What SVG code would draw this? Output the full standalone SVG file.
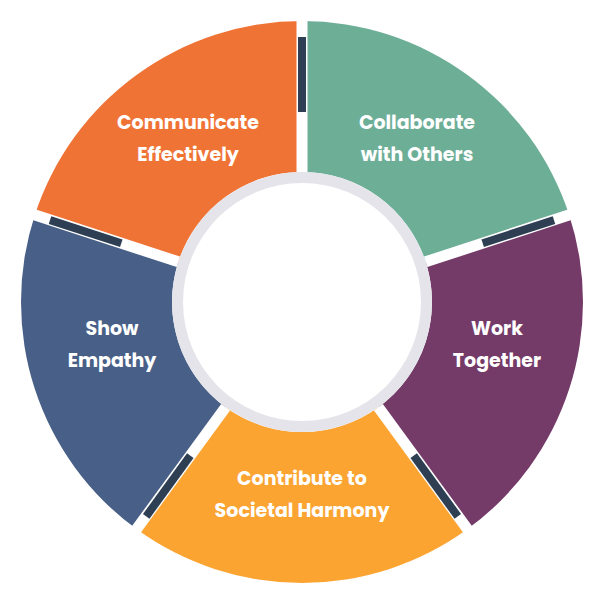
<svg xmlns="http://www.w3.org/2000/svg" width="605" height="604" viewBox="0 0 605 604">
<style>
.t{font-family:Poppins,Inter,"Liberation Sans",sans-serif;font-weight:700;font-size:19px;fill:#fff;text-anchor:middle}
.gap{stroke:#fff;stroke-width:11}
.dk{stroke:#2E3F54;stroke-width:8}
</style>
<rect width="605" height="604" fill="#fff"/>
<g id="seg-communicate"><path d="M34.75,215.17 A281,281 0 0 1 302,21 L302,172 A130,130 0 0 0 178.36,261.83 Z" fill="#F07336"/><text class="t" x="188" y="129">Communicate</text><text class="t" x="188" y="161">Effectively</text></g>
<g id="seg-collaborate"><path d="M302,21 A281,281 0 0 1 569.25,215.17 L425.64,261.83 A130,130 0 0 0 302,172 Z" fill="#6DAE97"/><text class="t" x="417" y="129">Collaborate</text><text class="t" x="417" y="161">with Others</text></g>
<g id="seg-work"><path d="M569.25,215.17 A281,281 0 0 1 467.17,529.33 L378.41,407.17 A130,130 0 0 0 425.64,261.83 Z" fill="#743A68"/><text class="t" x="497" y="335">Work</text><text class="t" x="497" y="367">Together</text></g>
<g id="seg-contribute"><path d="M467.17,529.33 A281,281 0 0 1 136.83,529.33 L225.59,407.17 A130,130 0 0 0 378.41,407.17 Z" fill="#FBA431"/><text class="t" x="302" y="485">Contribute to</text><text class="t" x="302" y="517">Societal Harmony</text></g>
<g id="seg-empathy"><path d="M136.83,529.33 A281,281 0 0 1 34.75,215.17 L178.36,261.83 A130,130 0 0 0 225.59,407.17 Z" fill="#485F87"/><text class="t" x="112" y="335">Show</text><text class="t" x="112" y="367">Empathy</text></g>
<g id="connectors">
<line class="gap" x1="302" y1="172" x2="302" y2="15"/>
<line class="gap" x1="425.64" y1="261.83" x2="575" y2="213"/>
<line class="gap" x1="378.41" y1="407.17" x2="471" y2="534"/>
<line class="gap" x1="225.59" y1="407.17" x2="133" y2="534"/>
<line class="gap" x1="178.36" y1="261.83" x2="29" y2="213"/>
<line class="dk" x1="302" y1="112" x2="302" y2="37"/>
<line class="dk" x1="482.7" y1="243.3" x2="554" y2="220.1"/>
<line class="dk" x1="413.7" y1="455.7" x2="457.8" y2="516.4"/>
<line class="dk" x1="190.3" y1="455.7" x2="146.2" y2="516.4"/>
<line class="dk" x1="121.3" y1="243.3" x2="50" y2="220.1"/>
</g>
<g id="center"><circle cx="302" cy="302" r="130" fill="#E4E4EA"/><circle cx="302" cy="302" r="119" fill="#fff"/></g>
</svg>
